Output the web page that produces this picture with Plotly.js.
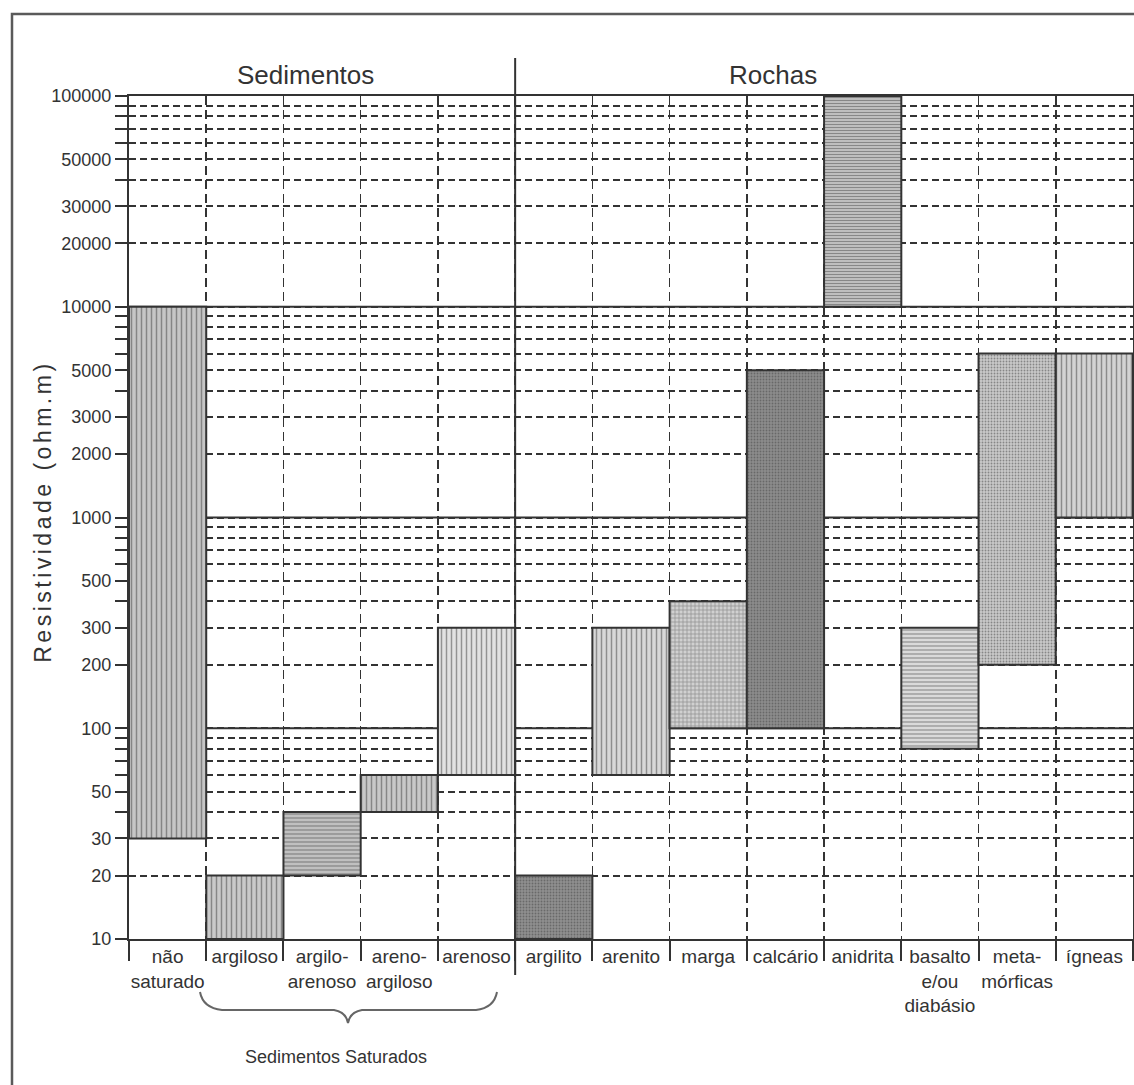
<!DOCTYPE html>
<html>
<head>
<meta charset="utf-8">
<script src="https://cdn.plot.ly/plotly-3.0.1.min.js"></script>
<style>
  html, body { margin: 0; padding: 0; background: #fff; }
  #chart { width: 1134px; height: 1085px; }
  .annotation[data-index="0"] text { letter-spacing: 3.5px; }
</style>
</head>
<body>
<div id="chart"></div>
<script>
// ---- data ----
const categories = ['não<br>saturado', 'argiloso', 'argilo-<br>arenoso', 'areno-<br>argiloso', 'arenoso',
  'argilito', 'arenito', 'marga', 'calcário', 'anidrita', 'basalto<br>e/ou<br>diabásio', 'meta-<br>mórficas', 'ígneas'];
const lowValues  = [30, 10, 20, 40, 60, 10, 60, 100, 100, 10000, 80, 200, 1000];
const highValues = [10000, 20, 40, 60, 300, 20, 300, 400, 5000, 100000, 300, 6000, 6000];
const labeledTicks = [10, 20, 30, 50, 100, 200, 300, 500, 1000, 2000, 3000, 5000, 10000, 20000, 30000, 50000, 100000];
const minorTicks = [40, 60, 70, 80, 90, 400, 600, 700, 800, 900, 4000, 6000, 7000, 8000, 9000, 40000, 60000, 70000, 80000, 90000];
const decadeLines = [100, 1000, 10000];
const yTitle = 'Resistividade (ohm.m)';
const groupHeaders = ['Sedimentos', 'Rochas'];
const groupNote = 'Sedimentos Saturados';

// ---- styles ----
const barColor = ['#c6c6c6', '#cacaca', '#c0c0c0', '#c8c8c8', '#e2e2e2', '#8f8f8f', '#d8d8d8', '#d0d0d0', '#8c8c8c', '#bebebe', '#dadada', '#c9c9c9', '#d3d3d3'];
const patShape = ['|', '|', '-', '|', '|', '.', '|', '+', '.', '-', '-', '.', '|'];
const patFg = ['#a0a0a0', '#aaaaaa', '#a6a6a6', '#aaaaaa', '#cccccc', '#858585', '#c0c0c0', '#b4b4b4', '#828282', '#a2a2a2', '#c2c2c2', '#b4b4b4', '#bcbcbc'];
const patSize = [5, 5, 4, 5, 5, 3, 5, 4, 3, 3, 4, 3, 5];

const INK = '#333333';
const FONT = '"Liberation Sans", Arial, sans-serif';
const L = 129, T = 96, W = 1004, H = 843;
const pxX = p => (p - L) / W;
const pxY = p => (T + H - p) / H;

const trace = {
  type: 'bar',
  x: categories,
  base: lowValues,
  y: highValues.map((h, i) => h - lowValues[i]),
  width: 1,
  marker: {
    color: barColor,
    line: { color: INK, width: 2 },
    pattern: { fillmode: 'overlay', shape: patShape, fgcolor: patFg, size: patSize, solidity: 0.3 }
  },
  hoverinfo: 'x+y',
  showlegend: false
};

const brace = [
  [200, 992], [203, 1008], [222, 1010], [334, 1010], [346, 1012], [348, 1023],
  [350, 1012], [362, 1010], [476, 1010], [494, 1008], [497, 992]
];
const bp = brace.map(p => [pxX(p[0]), pxY(p[1])]);
const bracePath = `M ${bp[0]} Q ${bp[1]} ${bp[2]} L ${bp[3]} Q ${bp[4]} ${bp[5]} Q ${bp[6]} ${bp[7]} L ${bp[8]} Q ${bp[9]} ${bp[10]}`.replace(/,/g, ' ');

const shapes = [
  ...decadeLines.map(v => ({ type: 'line', layer: 'between', xref: 'paper', yref: 'y', x0: 0, x1: 1, y0: v, y1: v,
    line: { color: INK, width: 2 } })),
  { type: 'line', xref: 'x', yref: 'paper', x0: 4.5, x1: 4.5, y0: pxY(975), y1: pxY(58), line: { color: INK, width: 2 } },
  { type: 'rect', xref: 'paper', yref: 'paper', x0: pxX(12), x1: pxX(1150), y0: pxY(1100), y1: pxY(14),
    line: { color: '#5a5a5a', width: 2.5 } },
  { type: 'path', xref: 'paper', yref: 'paper', path: bracePath, line: { color: '#666666', width: 2 } }
];

const annotations = [
  { text: yTitle, textangle: -90, xref: 'paper', yref: 'paper', x: pxX(43), y: pxY(512), xanchor: 'center', yanchor: 'middle',
    showarrow: false, font: { family: FONT, size: 23, color: INK } },
  { text: groupHeaders[0], xref: 'x', yref: 'paper', x: 1.78, y: pxY(75), xanchor: 'center', yanchor: 'middle', showarrow: false,
    font: { family: FONT, size: 26, color: INK } },
  { text: groupHeaders[1], xref: 'x', yref: 'paper', x: 7.84, y: pxY(75), xanchor: 'center', yanchor: 'middle', showarrow: false,
    font: { family: FONT, size: 26, color: INK } },
  { text: groupNote, xref: 'paper', yref: 'paper', x: pxX(336), y: pxY(1057), xanchor: 'center', yanchor: 'middle', showarrow: false,
    font: { family: FONT, size: 18, color: INK } }
];

const layout = {
  width: 1134, height: 1085,
  margin: { l: L, r: 1134 - L - W, t: T, b: 1085 - T - H },
  paper_bgcolor: '#ffffff', plot_bgcolor: '#ffffff',
  bargap: 0,
  xaxis: {
    type: 'category', range: [-0.5, 12.5], tickson: 'boundaries',
    ticks: 'outside', ticklen: 20, tickwidth: 2, tickcolor: INK,
    showgrid: true, gridcolor: INK, gridwidth: 1.5, griddash: '9px,5px',
    showline: true, linecolor: INK, linewidth: 2, mirror: true,
    tickangle: 0,
    tickfont: { family: FONT, size: 19, color: INK }, ticklabelstandoff: -1,
    fixedrange: true
  },
  yaxis: {
    type: 'log', range: [1, 5],
    tickmode: 'array', tickvals: labeledTicks, ticktext: labeledTicks.map(String),
    ticks: 'outside', ticklen: 12, tickwidth: 2, tickcolor: INK,
    showgrid: true, gridcolor: INK, gridwidth: 2, griddash: '7px,4px',
    minor: { tickmode: 'array', tickvals: minorTicks, ticks: 'outside', ticklen: 12, tickwidth: 2, tickcolor: INK,
      showgrid: true, gridcolor: INK, gridwidth: 2, griddash: '7px,4px' },
    showline: true, linecolor: INK, linewidth: 2, mirror: true,
    tickfont: { family: FONT, size: 18, color: INK },
    fixedrange: true
  },
  shapes: shapes,
  annotations: annotations,
  font: { family: FONT, color: INK }
};

Plotly.newPlot('chart', [trace], layout, { displayModeBar: false, staticPlot: true });
</script>
</body>
</html>
